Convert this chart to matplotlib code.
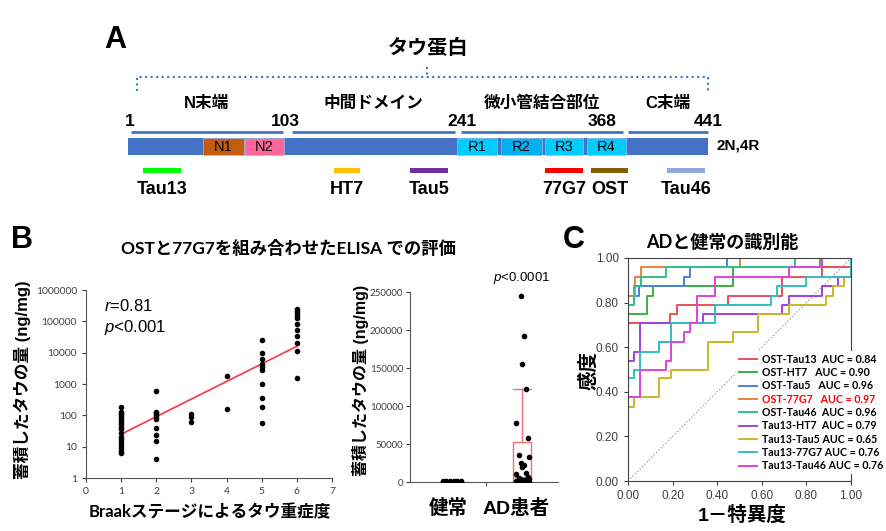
import matplotlib
matplotlib.use("Agg")
import matplotlib.pyplot as plt
import numpy as np

plt.rcParams['font.family'] = ['Liberation Sans', 'Noto Sans CJK JP', 'DejaVu Sans']
plt.rcParams['mathtext.fontset'] = 'custom'
plt.rcParams['mathtext.it'] = 'Liberation Sans:italic'
plt.rcParams['mathtext.rm'] = 'Liberation Sans'
LATO = ['Lato', 'Noto Sans CJK JP', 'DejaVu Sans']

# ---------- panel A: tau protein schematic (schematic units ~ pixels) ----------
domain_names = ['N末端', '中間ドメイン', '微小管結合部位', 'C末端']
domain_start = [131, 292, 461, 628]
domain_end = [283, 455, 623, 708]
residue_labels = ['1', '103', '241', '368', '441']
residue_pos = [130, 285, 462, 602, 708]
insert_names = ['N1', 'N2', 'R1', 'R2', 'R3', 'R4']
insert_start = [203, 245, 457, 501, 545, 587]
insert_end = [244, 284, 497, 542, 583, 626]
insert_colors = ['#C55A11', '#FF6699', '#00CCFF', '#00B0F0', '#00CCFF', '#00CCFF']
antibodies = ['Tau13', 'HT7', 'Tau5', '77G7', 'OST', 'Tau46']
ab_start = [143, 334, 410, 545, 591, 667]
ab_end = [181, 360, 448, 583, 628, 705]
ab_colors = ['#00FF00', '#FFC000', '#7030A0', '#FF0000', '#806000', '#8EA9DB']

# ---------- panel B: scatter by Braak stage ----------
stage1 = [189, 131, 116, 102, 91, 76, 63, 52, 43, 36, 27, 21, 17, 14, 11, 9, 7.4, 6.1]
stage2 = [610, 130, 115, 100, 90, 78, 40, 24, 15, 4]
stage3 = [108, 88, 62]
stage4 = [1760, 163]
stage5 = [25000, 9500, 6300, 4500, 3400, 2800, 980, 350, 185, 58]
stage6 = [248000, 213000, 180000, 151000, 124000, 80000, 53000, 34000, 20000, 11300, 1600]
fit_x = [1, 6]
fit_y = [25, 16000]

# ---------- panel B: control vs AD ----------
control_vals = [1500, 1200, 1000, 900, 800, 700, 600, 500, 400, 300, 200, 100]
ad_vals = [245000, 192000, 155000, 123000, 77000, 58000, 35000, 33000, 25000, 23000,
           20000, 12000, 10000, 7000, 5000, 4000, 3000, 2500, 2000, 1500, 1000, 800, 500, 300]
ad_box = dict(q1=1500, med=6500, q3=52000, whislo=300, whishi=122000)

# ---------- panel C: ROC curves ----------
roc_labels = ['OST-Tau13  AUC = 0.84', 'OST-HT7   AUC = 0.90', 'OST-Tau5   AUC = 0.96',
              'OST-77G7   AUC = 0.97', 'OST-Tau46  AUC = 0.96', 'Tau13-HT7  AUC = 0.79',
              'Tau13-Tau5 AUC = 0.65', 'Tau13-77G7 AUC = 0.76', 'Tau13-Tau46 AUC = 0.76']
roc_colors = ['#E8505B', '#3CB043', '#4C7FE0', '#E8823A', '#2EC28E',
              '#A040E0', '#C8B828', '#30C0C0', '#E040E0']
roc_fpr = [
    [0, 0, .19, .19, .22, .22, .45, .45, .69, .69, .87, .87, 1, 1],
    [0, 0, .085, .085, .11, .11, .47, .47, .86, .86, 1],
    [0, 0, .05, .05, .25, .25, .28, .28, .445, .445, 1],
    [0, 0, .03, .03, .058, .058, .5, .5, 1],
    [0, 0, .025, .025, .058, .058, .17, .17, .75, .75, 1],
    [0, 0, .025, .025, .055, .055, .335, .335, .69, .69, .72, .72, .87, .87, .94, .94, 1, 1],
    [0, 0, .025, .025, .14, .14, .194, .194, .36, .36, .47, .47, .585, .585, .72, .72,
     .89, .89, .92, .92, .97, .97, 1, 1],
    [0, 0, .025, .025, .055, .055, .14, .14, .194, .194, .39, .39, .64, .64, .667, .667,
     .8, .8, 1, 1],
    [0, 0, .055, .055, .17, .17, .194, .194, .25, .25, .28, .28, .31, .31, .39, .39,
     .72, .72, .87, .87, 1, 1],
]
roc_tpr = [
    [0, .71, .71, .75, .75, .79, .79, .83, .83, .917, .917, .958, .958, 1],
    [0, .75, .75, .83, .83, .875, .875, .958, .958, 1, 1],
    [0, .83, .83, .875, .875, .917, .917, .958, .958, 1, 1],
    [0, .83, .83, .917, .917, .958, .958, 1, 1],
    [0, .79, .79, .875, .875, .917, .917, .958, .958, 1, 1],
    [0, .54, .54, .58, .58, .71, .71, .75, .75, .79, .79, .83, .83, .875, .875, .917, .917, 1],
    [0, .333, .333, .375, .375, .46, .46, .5, .5, .625, .625, .667, .667, .75, .75, .79,
     .79, .83, .83, .875, .875, .917, .917, 1],
    [0, .46, .46, .5, .5, .58, .58, .625, .625, .71, .71, .79, .79, .83, .83, .875,
     .875, .917, .917, 1],
    [0, .375, .375, .5, .5, .54, .54, .625, .625, .667, .667, .71, .71, .83, .83, .917,
     .917, .958, .958, 1, 1, 1],
]

W, H = 886, 531
fig = plt.figure(figsize=(W / 100, H / 100), dpi=100)

def fx(px):
    return px / W

def fy(py):
    return 1 - py / H

# ===== A =====
axA = fig.add_axes([0, 0, 1, 1])
axA.set_xlim(0, W)
axA.set_ylim(H, 0)
axA.axis('off')
blue = '#4472C4'
axA.text(115, 40, 'A', fontsize=22, fontweight='bold', ha='center', va='center')
axA.text(428, 48, 'タウ蛋白', fontsize=14.5, fontweight='bold', ha='center', va='center')
axA.plot([137, 137, 708, 708], [91, 77, 77, 91], ls=':', color=blue, lw=1.5)
axA.plot([427, 427], [67, 77], ls=':', color=blue, lw=1.5)
for name, s, e in zip(domain_names, domain_start, domain_end):
    axA.hlines(132, s, e, color=blue, lw=2)
    axA.text((s + e) / 2, 103, name, fontsize=12, fontweight='bold', ha='center', va='center')
for lab, p in zip(residue_labels, residue_pos):
    axA.text(p, 121, lab, fontsize=12.5, fontweight='bold', ha='center', va='center')
axA.barh(146.5, 580, left=128, height=17, color=blue)
for name, s, e, c in zip(insert_names, insert_start, insert_end, insert_colors):
    axA.barh(146.5, e - s, left=s, height=17, color=c, edgecolor='#9DC3E6', lw=0.5)
    axA.text((s + e) / 2, 147, name, fontsize=10.5, ha='center', va='center')
axA.text(717, 146, '2N,4R', fontsize=11, fontweight='bold', ha='left', va='center')
for name, s, e, c in zip(antibodies, ab_start, ab_end, ab_colors):
    axA.barh(170, e - s, left=s, height=5, color=c)
    axA.text((s + e) / 2, 189, name, fontsize=13, fontweight='bold', ha='center', va='center')

# ===== B scatter =====
axA.text(22, 240, 'B', fontsize=22, fontweight='bold', ha='center', va='center')
axA.text(289, 249, 'OSTと77G7を組み合わせたELISA での評価', fontsize=12.5,
         fontweight='bold', ha='center', va='center', family=LATO)
tick_col = '#404040'
axS = fig.add_axes([fx(86), fy(478), fx(332 - 86), (478 - 290) / H])
for st, vals in enumerate([stage1, stage2, stage3, stage4, stage5, stage6], start=1):
    axS.scatter([st] * len(vals), vals, s=9, color='black', zorder=3)
axS.plot(fit_x, fit_y, color='#FF3344', lw=1.2, zorder=2)
axS.set_yscale('log')
axS.set_ylim(1, 1e6)
axS.set_xlim(0, 7)
axS.set_yticks([1, 10, 100, 1000, 10000, 100000, 1000000])
axS.set_yticklabels(['1', '10', '100', '1000', '10000', '100000', '1000000'])
axS.minorticks_off()
axS.set_xticks(range(8))
axS.tick_params(labelsize=7.5, colors=tick_col, length=3, width=0.8)
for lab in axS.get_xticklabels() + axS.get_yticklabels():
    lab.set_family(LATO)
for sp in ['top', 'right']:
    axS.spines[sp].set_visible(False)
for sp in ['left', 'bottom']:
    axS.spines[sp].set_color('#555555')
axS.text(0.5, 3.2e5, '$r$=0.81', fontsize=12, ha='left', va='center')
axS.text(0.5, 6.5e4, '$p$<0.001', fontsize=12, ha='left', va='center')
axA.text(22, 380, '蓄積したタウの量 (ng/mg)', fontsize=12, fontweight='bold',
         rotation=90, ha='center', va='center')
axA.text(210, 512, 'Braakステージによるタウ重症度', fontsize=12, fontweight='bold',
         ha='center', va='center', family=LATO)

# ===== B box =====
axB = fig.add_axes([fx(410), fy(482), fx(558 - 410), (482 - 292) / H])
box_col = '#F07078'
axB.bxp([dict(ad_box, fliers=[])], positions=[1], widths=0.26, showfliers=False,
        boxprops=dict(color=box_col, lw=1), whiskerprops=dict(color=box_col, lw=1),
        capprops=dict(color=box_col, lw=1), medianprops=dict(color=box_col, lw=1),
        capwidths=[0.26], zorder=2)
jit_c = np.tile([-0.1, -0.05, 0.0, 0.05, 0.1, 0.15], 2)[:len(control_vals)]
axB.scatter(0 + jit_c, control_vals, s=9, color='black', zorder=3)
jit_a = np.tile([-0.02, 0.03, 0.0, 0.05, -0.08, 0.08, -0.04, 0.1], 3)[:len(ad_vals)]
axB.scatter(1 + jit_a, ad_vals, s=9, color='black', zorder=3)
axB.set_xlim(-0.556, 1.5)
axB.set_ylim(0, 250000)
axB.set_yticks(range(0, 250001, 50000))
axB.set_xticks([0.5])
axB.set_xticklabels([''])
axB.tick_params(axis='y', labelsize=7, colors=tick_col, length=3, width=0.8, pad=2)
axB.tick_params(axis='x', length=3, colors='#555555')
for lab in axB.get_yticklabels():
    lab.set_family(LATO)
for sp in ['top', 'right']:
    axB.spines[sp].set_visible(False)
for sp in ['left', 'bottom']:
    axB.spines[sp].set_color('#555555')
axB.text(1, 258000, '$p$<0.0001', fontsize=9.5, ha='center', va='bottom')
axA.text(448, 509, '健常', fontsize=14, fontweight='bold', ha='center', va='center')
axA.text(516, 509, 'AD患者', fontsize=14, fontweight='bold', ha='center', va='center')
axA.text(361, 380, '蓄積したタウの量 (ng/mg)', fontsize=11.5, fontweight='bold',
         rotation=90, ha='center', va='center')

# ===== C ROC =====
axA.text(574, 240, 'C', fontsize=22, fontweight='bold', ha='center', va='center')
axA.text(722, 242, 'ADと健常の識別能', fontsize=13, fontweight='bold', ha='center',
         va='center', family=LATO)
axC = fig.add_axes([fx(628), fy(481), fx(851 - 628), (481 - 258) / H])
axC.plot([0, 1], [0, 1], ls=':', color='#999999', lw=0.9)
handles = []
for xs, ys, c, lab in zip(roc_fpr, roc_tpr, roc_colors, roc_labels):
    h, = axC.plot(xs, ys, color=c, lw=1.4, label=lab)
    handles.append(h)
axC.set_xlim(0, 1)
axC.set_ylim(0, 1)
ticks = np.arange(0, 1.01, 0.2)
axC.set_xticks(ticks)
axC.set_yticks(ticks)
axC.set_xticklabels(['%.2f' % t for t in ticks])
axC.set_yticklabels(['%.2f' % t for t in ticks])
axC.tick_params(labelsize=8.5, colors=tick_col, length=3, width=0.8)
for sp in axC.spines.values():
    sp.set_color('#404040')
leg = axC.legend(handles=handles, loc='upper left', bbox_to_anchor=(fx(736), fy(351)),
                 bbox_transform=fig.transFigure, frameon=True, fancybox=False,
                 edgecolor='none', facecolor='white', framealpha=1,
                 prop=dict(family=LATO, size=7.7, weight='bold'), handlelength=1.7,
                 labelspacing=0.22, borderpad=0.25, handletextpad=0.45, borderaxespad=0)
for t in leg.get_texts():
    if 'OST-77G7' in t.get_text():
        t.set_color('red')
axA.text(589, 370, '感度', fontsize=14, fontweight='bold', rotation=90,
         ha='center', va='center')
axA.text(742, 515, '1－特異度', fontsize=14, fontweight='bold', ha='center', va='center')

fig.savefig('out.png', dpi=100)
